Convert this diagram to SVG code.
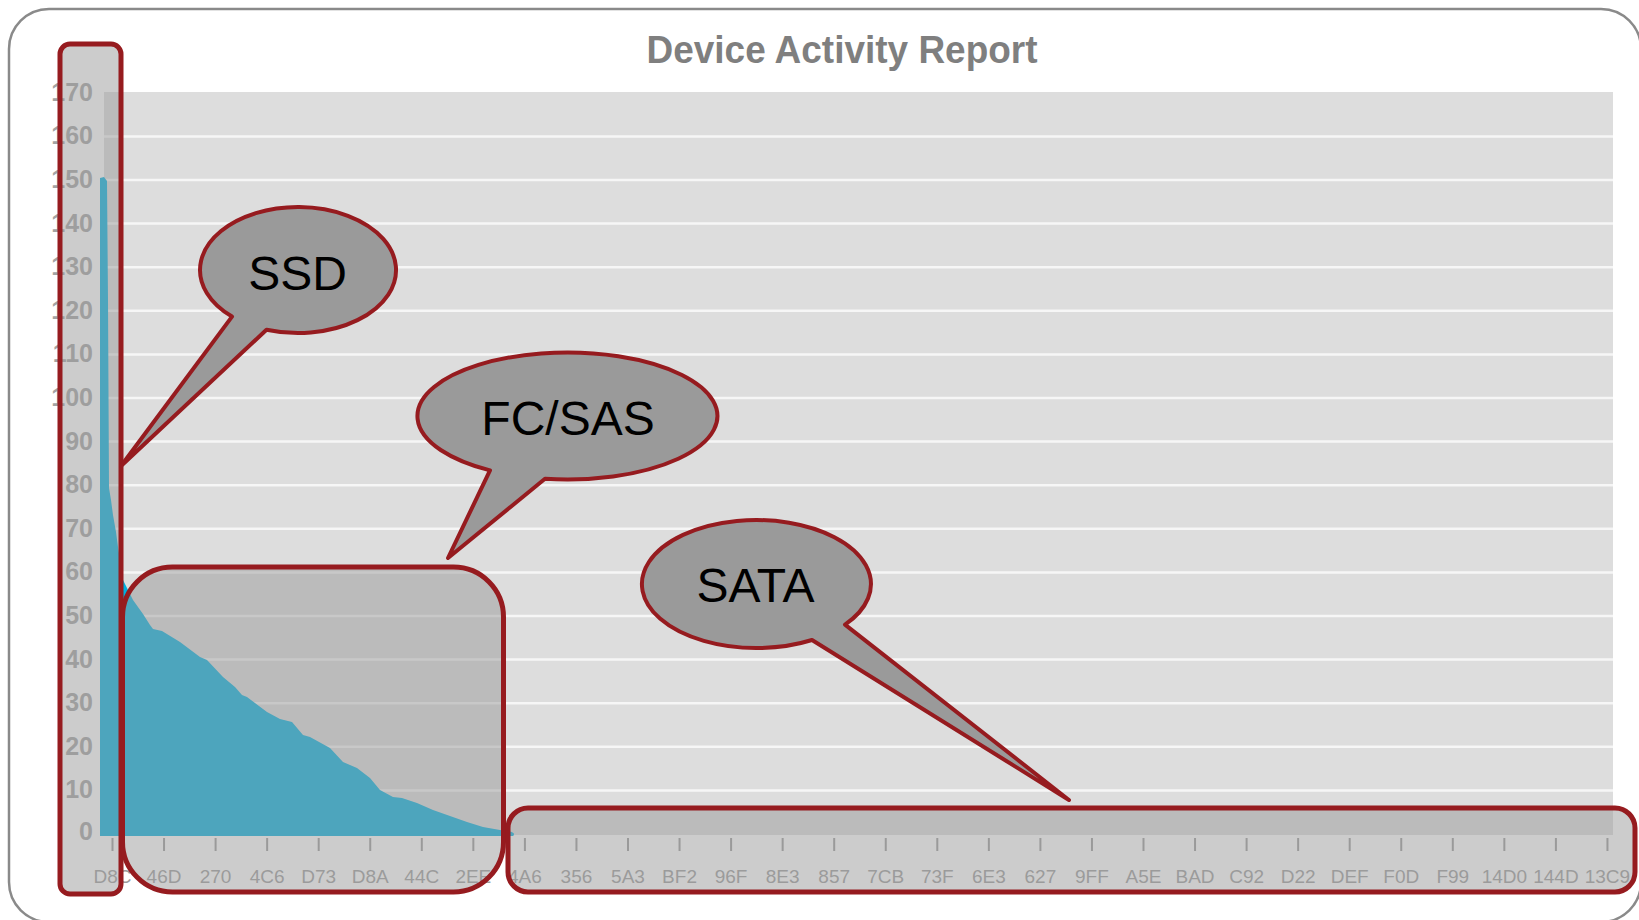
<svg xmlns="http://www.w3.org/2000/svg" width="1639" height="920" viewBox="0 0 1639 920">
<style>
.ylab{font-family:"Liberation Sans",Arial,sans-serif;font-weight:bold;font-size:25px;fill:#a3a3a3;text-anchor:end}
.xlab{font-family:"Liberation Sans",Arial,sans-serif;font-size:19px;fill:#9c9c9c;text-anchor:middle}
.grid{stroke:#f6f6f6;stroke-width:2.5;fill:none}
.hl{fill:#999999;fill-opacity:0.5;stroke:#961b1f;stroke-width:5}
.bubble{fill:#9a9a9a;stroke:#961b1f;stroke-width:4;stroke-linejoin:round}
.btxt{font-family:"Liberation Sans",Arial,sans-serif;font-size:48px;fill:#000;text-anchor:middle}
</style>
<rect x="0" y="0" width="1639" height="920" fill="#ffffff"/>
<rect id="frame" x="9" y="9" width="1632" height="913" rx="40" fill="#ffffff" stroke="#8a8a8a" stroke-width="2.5"/>
<text id="title" x="842" y="63" font-family="'Liberation Sans',Arial,sans-serif" font-weight="bold" font-size="38" fill="#7f7f7f" text-anchor="middle" textLength="391" lengthAdjust="spacingAndGlyphs">Device Activity Report</text>
<g id="chart">
<rect x="104" y="92" width="1509" height="743" fill="#dddddd"/>
<path class="grid" d="M104,136.4H1613M104,180H1613M104,223.6H1613M104,267.2H1613M104,310.8H1613M104,354.4H1613M104,398H1613M104,441.6H1613M104,485.2H1613M104,528.8H1613M104,572.4H1613M104,616H1613M104,659.6H1613M104,703.2H1613M104,746.8H1613M104,790.4H1613"/>
<g id="yaxis">
<text class="ylab" x="93" y="101">170</text>
<text class="ylab" x="93" y="144.4">160</text>
<text class="ylab" x="93" y="188">150</text>
<text class="ylab" x="93" y="231.6">140</text>
<text class="ylab" x="93" y="275.2">130</text>
<text class="ylab" x="93" y="318.8">120</text>
<text class="ylab" x="93" y="362.4">110</text>
<text class="ylab" x="93" y="406">100</text>
<text class="ylab" x="93" y="449.6">90</text>
<text class="ylab" x="93" y="493.2">80</text>
<text class="ylab" x="93" y="536.8">70</text>
<text class="ylab" x="93" y="580.4">60</text>
<text class="ylab" x="93" y="624">50</text>
<text class="ylab" x="93" y="667.6">40</text>
<text class="ylab" x="93" y="711.2">30</text>
<text class="ylab" x="93" y="754.8">20</text>
<text class="ylab" x="93" y="798.4">10</text>
<text class="ylab" x="93" y="840">0</text>
</g>
<g id="xaxis">
<path stroke="#9a9a9a" stroke-width="2" fill="none" d="M112.5,838V851M164.05,838V851M215.6,838V851M267.15,838V851M318.7,838V851M370.25,838V851M421.8,838V851M473.35,838V851M524.9,838V851M576.45,838V851M628,838V851M679.55,838V851M731.1,838V851M782.65,838V851M834.2,838V851M885.75,838V851M937.3,838V851M988.85,838V851M1040.4,838V851M1091.95,838V851M1143.5,838V851M1195.05,838V851M1246.6,838V851M1298.15,838V851M1349.7,838V851M1401.25,838V851M1452.8,838V851M1504.35,838V851M1555.9,838V851M1607.45,838V851"/>
<text class="xlab" x="112.5" y="883">D8C</text>
<text class="xlab" x="164.05" y="883">46D</text>
<text class="xlab" x="215.6" y="883">270</text>
<text class="xlab" x="267.15" y="883">4C6</text>
<text class="xlab" x="318.7" y="883">D73</text>
<text class="xlab" x="370.25" y="883">D8A</text>
<text class="xlab" x="421.8" y="883">44C</text>
<text class="xlab" x="473.35" y="883">2EE</text>
<text class="xlab" x="524.9" y="883">4A6</text>
<text class="xlab" x="576.45" y="883">356</text>
<text class="xlab" x="628" y="883">5A3</text>
<text class="xlab" x="679.55" y="883">BF2</text>
<text class="xlab" x="731.1" y="883">96F</text>
<text class="xlab" x="782.65" y="883">8E3</text>
<text class="xlab" x="834.2" y="883">857</text>
<text class="xlab" x="885.75" y="883">7CB</text>
<text class="xlab" x="937.3" y="883">73F</text>
<text class="xlab" x="988.85" y="883">6E3</text>
<text class="xlab" x="1040.4" y="883">627</text>
<text class="xlab" x="1091.95" y="883">9FF</text>
<text class="xlab" x="1143.5" y="883">A5E</text>
<text class="xlab" x="1195.05" y="883">BAD</text>
<text class="xlab" x="1246.6" y="883">C92</text>
<text class="xlab" x="1298.15" y="883">D22</text>
<text class="xlab" x="1349.7" y="883">DEF</text>
<text class="xlab" x="1401.25" y="883">F0D</text>
<text class="xlab" x="1452.8" y="883">F99</text>
<text class="xlab" x="1504.35" y="883">14D0</text>
<text class="xlab" x="1555.9" y="883">144D</text>
<text class="xlab" x="1607.45" y="883">13C9</text>
</g>
<path id="area" fill="#00b0e0" d="M100,836 L100,178 L104,177 L107,181 L108,300 L109,488 L111,500 L113,515 L116,532 L118,547 L121,565 L123,580 L133,600 L143,614 L150,625 L153,629 L162,631 L180,642 L200,657 L207,660 L223,677 L235,687 L242,695 L247,697 L267,712 L280,719 L292,722 L303,735 L310,737 L330,748 L343,762 L357,768 L370,778 L380,790 L393,797 L402,798 L417,803 L433,810 L450,816 L467,822 L483,827 L500,830 L510,831.5 Q516,833 513,836 Z"/>
</g>
<g id="ssd-box"><rect class="hl" x="60" y="44" width="61" height="850" rx="10"/></g>
<g id="fcsas-box"><rect class="hl" x="122.5" y="567" width="381" height="325" rx="50"/></g>
<g id="sata-box"><rect class="hl" x="508" y="808" width="1127" height="84" rx="20"/></g>
<g id="ssd-callout">
<path class="bubble" d="M232,316.6 A98,63 0 1 1 266.5,329.7 L121,466 Z"/>
<text class="btxt" x="297.5" y="290">SSD</text>
</g>
<g id="fcsas-callout">
<path class="bubble" d="M490,470.4 A150,63.5 0 1 1 545,478.8 L448,558 Z"/>
<text class="btxt" x="568" y="435">FC/SAS</text>
</g>
<g id="sata-callout">
<path class="bubble" d="M812,640 A114.5,64 0 1 1 845,624.6 L1069,800 Z"/>
<text class="btxt" x="755.5" y="602">SATA</text>
</g>
</svg>
